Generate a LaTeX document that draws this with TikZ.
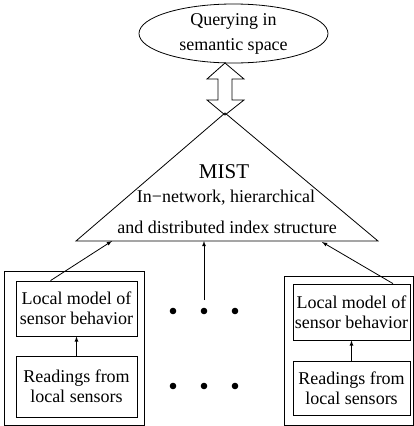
\documentclass[tikz,border=0pt]{standalone}
\usepackage{fontspec}
\setmainfont{Liberation Serif}
\usepackage{tikz}
\usetikzlibrary{shapes.geometric}

\begin{document}
\begin{tikzpicture}[x=1pt, y=-1pt, line width=0.8pt, >=latex,
	box/.style = {draw, align=center, inner sep=1pt},
	lbl/.style = {font=\fontsize{18}{20}\selectfont}]
\useasboundingbox (0, 0) rectangle (414, 426);
% query and the double arrow
\node[draw, ellipse, align=center, minimum width=189pt, minimum height=59pt, inner sep=0pt,
	font=\fontsize{18}{25}\selectfont]
	(query) at (233.5, 33.5) {Querying in\\semantic space};
\draw[fill = white]
	(225, 63) -- (244, 79) -- (232, 79) -- (232, 100) -- (244, 100) --
	(225, 115) -- (207, 100) -- (218, 100) -- (218, 79) -- (207, 79) -- cycle;
% index structure
\coordinate (apex) at (225, 113);
\coordinate (baseL) at (76, 241);
\coordinate (baseR) at (378, 241);
\draw (baseL) -- (apex) -- (baseR) -- cycle;
\node[font=\fontsize{21}{24}\selectfont] (mist) at (224, 172) {MIST};
\node[lbl] (mist2) at (226, 198) {In−network, hierarchical};
\node[lbl] (mist3) at (227, 227) {and distributed index structure};
\coordinate (inL) at (112, 241);
\coordinate (inM) at (204, 241);
\coordinate (inR) at (322, 242);
% left sensor
\node[draw, minimum width=140pt, minimum height=154pt] (lsensor) at (74, 348) {};
\node[box, lbl, minimum width=121pt, minimum height=55pt] (lmodel) at (76.5, 308.5) {Local model of\\sensor behavior};
\node[box, lbl, minimum width=121pt, minimum height=61pt] (lread) at (76.5, 386.5) {Readings from\\local sensors};
\draw[->] (lread) -- (lmodel);
\draw[->] ([xshift=-26pt]lmodel.north) -- (inL);
% right sensor
\node[draw, minimum width=129pt, minimum height=149pt] (rsensor) at (348.5, 350.5) {};
\node[box, lbl, minimum width=117pt, minimum height=56pt] (rmodel) at (351.5, 312) {Local model of\\sensor behavior};
\node[box, lbl, minimum width=117pt, minimum height=54pt] (rread) at (351.5, 388) {Readings from\\local sensors};
\draw[->] (rread) -- (rmodel);
\draw[->] ([xshift=41.5pt]rmodel.north) -- (inR);
% the others
\coordinate (midtail) at (204, 300);
\draw[->] (midtail) -- (inM);
\foreach \x in {173, 204, 235} {
	\fill (\x, 311) circle (3.3pt);
	\fill (\x, 386) circle (3.3pt);
}
\end{tikzpicture}
\end{document}
